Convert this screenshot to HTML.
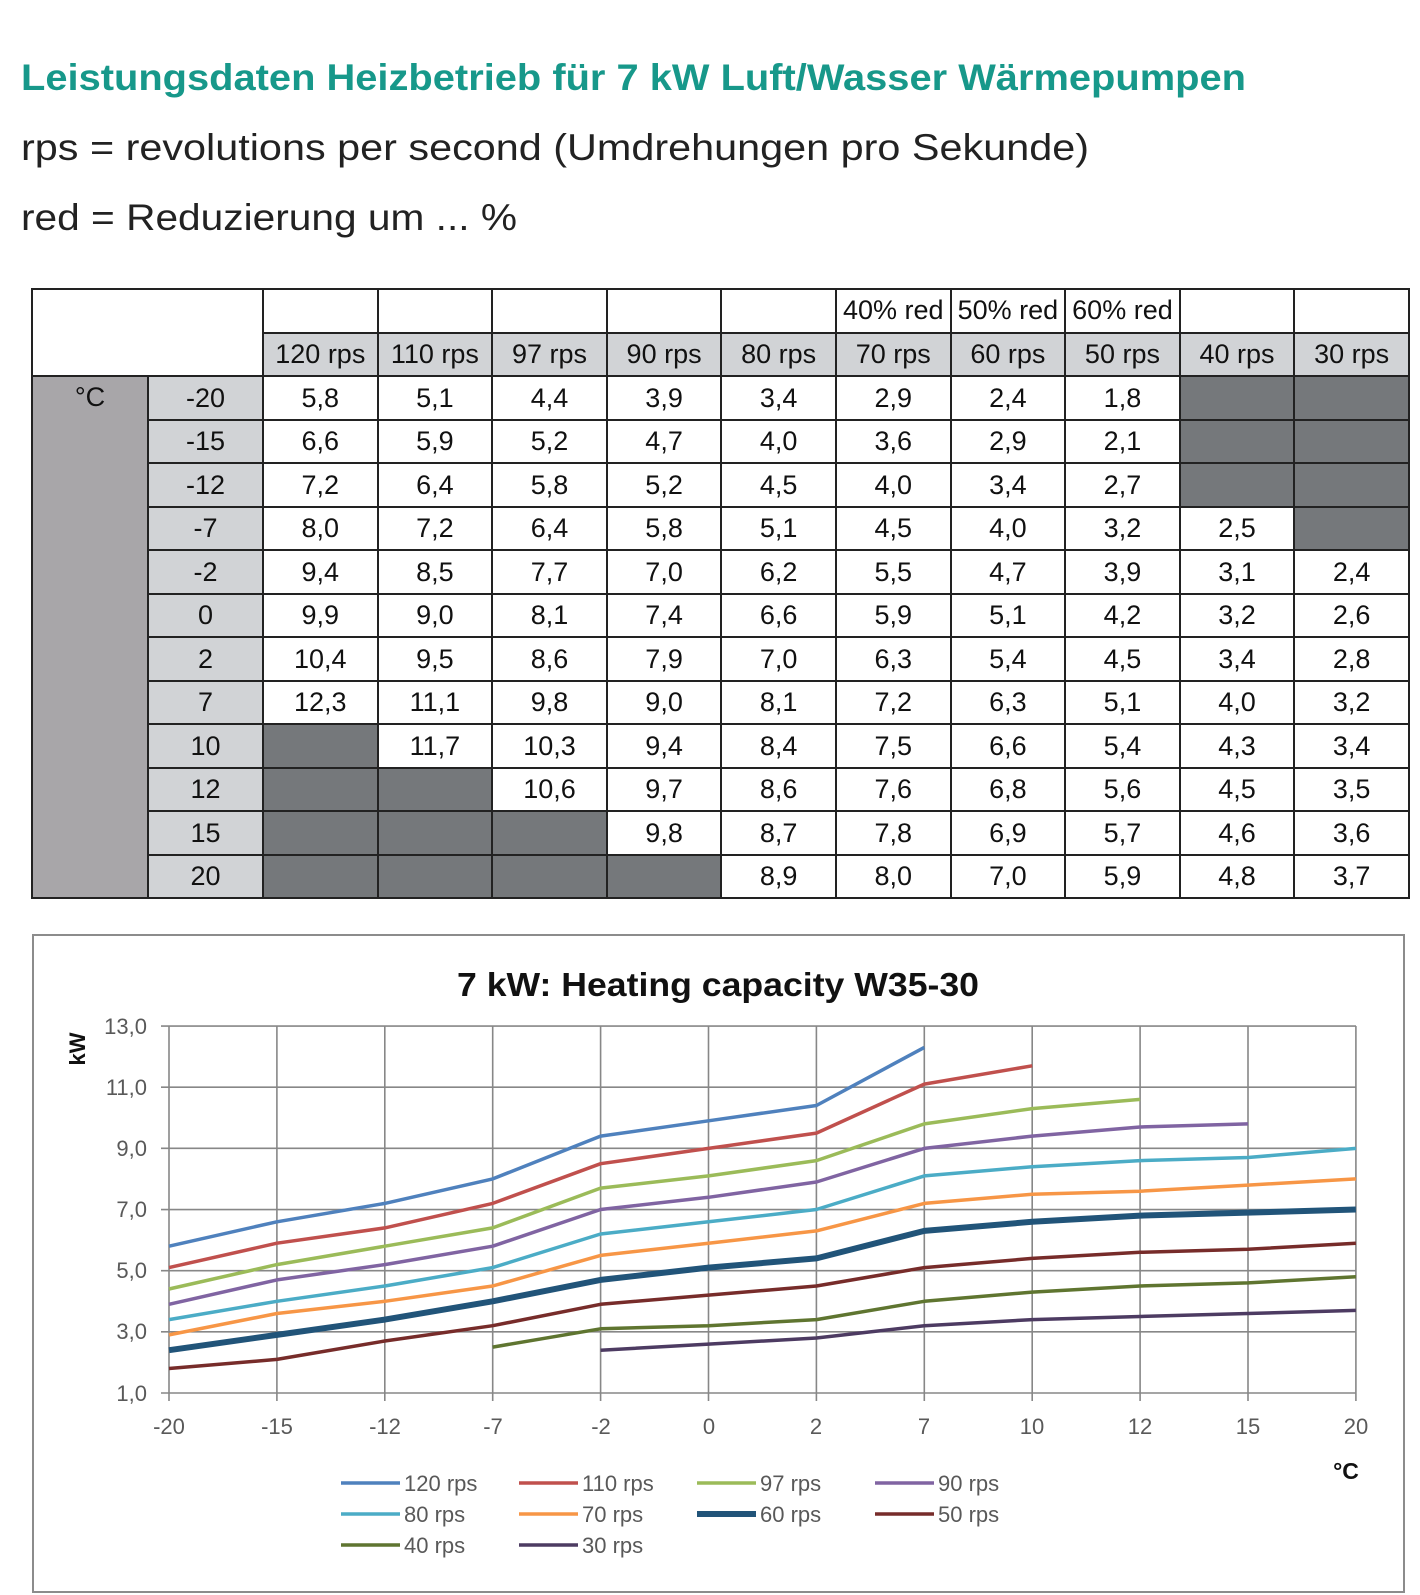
<!DOCTYPE html>
<html><head><meta charset="utf-8">
<style>
html,body{margin:0;padding:0;background:#fff;}
body{width:1420px;height:1595px;position:relative;overflow:hidden;font-family:"Liberation Sans",sans-serif;}
svg{position:absolute;left:0;top:0;}
table{position:absolute;left:31px;top:288px;border-collapse:collapse;table-layout:fixed;width:1377px;font-size:27px;color:#111;}
td{border:2px solid #222;padding:0;text-align:center;height:41.5px;line-height:41px;white-space:nowrap;overflow:hidden;}
tr.h td{height:41.7px;}
.g{background:#d1d3d6;}
.c{background:#a8a6a9;vertical-align:top;}
.d{background:#75787b;}
</style></head><body>
<svg width="1420" height="1595" xmlns="http://www.w3.org/2000/svg" font-family="Liberation Sans, sans-serif">
<text x="21" y="90" font-size="37" font-weight="bold" fill="#17988a" textLength="1225" lengthAdjust="spacingAndGlyphs">Leistungsdaten Heizbetrieb für 7 kW Luft/Wasser Wärmepumpen</text>
<text x="21" y="160" font-size="37" fill="#222" textLength="1068" lengthAdjust="spacingAndGlyphs">rps = revolutions per second (Umdrehungen pro Sekunde)</text>
<text x="21" y="230" font-size="37" fill="#222" textLength="496" lengthAdjust="spacingAndGlyphs">red = Reduzierung um ... %</text>

<rect x="33" y="935" width="1371" height="657" fill="#fff" stroke="#8c8c8c" stroke-width="2"/>
<text x="718" y="996" font-size="33" font-weight="bold" text-anchor="middle" fill="#111" textLength="522" lengthAdjust="spacingAndGlyphs">7 kW: Heating capacity W35-30</text>
<g id="grid" stroke="#878787" stroke-width="1.6" fill="none"></g>
<g font-size="22" fill="#595959" text-anchor="end">
<text x="147" y="1034">13,0</text><text x="147" y="1095">11,0</text><text x="147" y="1156">9,0</text><text x="147" y="1217">7,0</text><text x="147" y="1278">5,0</text><text x="147" y="1339">3,0</text><text x="147" y="1401">1,0</text>
</g>
<text transform="translate(85,1049) rotate(-90)" font-size="22" font-weight="bold" text-anchor="middle" fill="#111">kW</text>
<g font-size="22" fill="#595959" text-anchor="middle">
<text x="169" y="1434">-20</text><text x="277" y="1434">-15</text><text x="385" y="1434">-12</text><text x="493" y="1434">-7</text><text x="601" y="1434">-2</text><text x="709" y="1434">0</text><text x="816" y="1434">2</text><text x="924" y="1434">7</text><text x="1032" y="1434">10</text><text x="1140" y="1434">12</text><text x="1248" y="1434">15</text><text x="1356" y="1434">20</text>
</g>
<text x="1346" y="1479" font-size="23" font-weight="bold" text-anchor="middle" fill="#111">°C</text>
<g id="series" fill="none" stroke-linejoin="round"></g>
<g id="leg"></g>
<g font-size="22" fill="#595959">
<text x="404" y="1491">120 rps</text><text x="582" y="1491">110 rps</text><text x="760" y="1491">97 rps</text><text x="938" y="1491">90 rps</text>
<text x="404" y="1522">80 rps</text><text x="582" y="1522">70 rps</text><text x="760" y="1522">60 rps</text><text x="938" y="1522">50 rps</text>
<text x="404" y="1553">40 rps</text><text x="582" y="1553">30 rps</text>
</g>
</svg>

<table>
<colgroup><col style="width:116px"><col style="width:115px"><col span="10" style="width:114.6px"></colgroup>
<tr class="h"><td colspan="2" rowspan="2"></td><td></td><td></td><td></td><td></td><td></td><td>40% red</td><td>50% red</td><td>60% red</td><td></td><td></td></tr>
<tr class="h"><td class="g">120 rps</td><td class="g">110 rps</td><td class="g">97 rps</td><td class="g">90 rps</td><td class="g">80 rps</td><td class="g">70 rps</td><td class="g">60 rps</td><td class="g">50 rps</td><td class="g">40 rps</td><td class="g">30 rps</td></tr>
<tr><td class="c" rowspan="12">°C</td><td class="g">-20</td><td>5,8</td><td>5,1</td><td>4,4</td><td>3,9</td><td>3,4</td><td>2,9</td><td>2,4</td><td>1,8</td><td class="d"></td><td class="d"></td></tr>
<tr><td class="g">-15</td><td>6,6</td><td>5,9</td><td>5,2</td><td>4,7</td><td>4,0</td><td>3,6</td><td>2,9</td><td>2,1</td><td class="d"></td><td class="d"></td></tr>
<tr><td class="g">-12</td><td>7,2</td><td>6,4</td><td>5,8</td><td>5,2</td><td>4,5</td><td>4,0</td><td>3,4</td><td>2,7</td><td class="d"></td><td class="d"></td></tr>
<tr><td class="g">-7</td><td>8,0</td><td>7,2</td><td>6,4</td><td>5,8</td><td>5,1</td><td>4,5</td><td>4,0</td><td>3,2</td><td>2,5</td><td class="d"></td></tr>
<tr><td class="g">-2</td><td>9,4</td><td>8,5</td><td>7,7</td><td>7,0</td><td>6,2</td><td>5,5</td><td>4,7</td><td>3,9</td><td>3,1</td><td>2,4</td></tr>
<tr><td class="g">0</td><td>9,9</td><td>9,0</td><td>8,1</td><td>7,4</td><td>6,6</td><td>5,9</td><td>5,1</td><td>4,2</td><td>3,2</td><td>2,6</td></tr>
<tr><td class="g">2</td><td>10,4</td><td>9,5</td><td>8,6</td><td>7,9</td><td>7,0</td><td>6,3</td><td>5,4</td><td>4,5</td><td>3,4</td><td>2,8</td></tr>
<tr><td class="g">7</td><td>12,3</td><td>11,1</td><td>9,8</td><td>9,0</td><td>8,1</td><td>7,2</td><td>6,3</td><td>5,1</td><td>4,0</td><td>3,2</td></tr>
<tr><td class="g">10</td><td class="d"></td><td>11,7</td><td>10,3</td><td>9,4</td><td>8,4</td><td>7,5</td><td>6,6</td><td>5,4</td><td>4,3</td><td>3,4</td></tr>
<tr><td class="g">12</td><td class="d"></td><td class="d"></td><td>10,6</td><td>9,7</td><td>8,6</td><td>7,6</td><td>6,8</td><td>5,6</td><td>4,5</td><td>3,5</td></tr>
<tr><td class="g">15</td><td class="d"></td><td class="d"></td><td class="d"></td><td>9,8</td><td>8,7</td><td>7,8</td><td>6,9</td><td>5,7</td><td>4,6</td><td>3,6</td></tr>
<tr><td class="g">20</td><td class="d"></td><td class="d"></td><td class="d"></td><td class="d"></td><td>8,9</td><td>8,0</td><td>7,0</td><td>5,9</td><td>4,8</td><td>3,7</td></tr>
</table>

<script>
(function(){
var NS="http://www.w3.org/2000/svg";
function X(i){return 169+i*107.9;}
function Y(v){return 1393-(v-1)*30.58;}
function el(p,t,a){var e=document.createElementNS(NS,t);for(var k in a)e.setAttribute(k,a[k]);p.appendChild(e);return e;}
var g=document.getElementById("grid");
for(var v=1;v<=13;v+=2){el(g,"line",{x1:161,x2:1356,y1:Y(v),y2:Y(v)});}
for(var i=0;i<12;i++){el(g,"line",{x1:X(i),x2:X(i),y1:1026,y2:1401});}
var S=[
["#4f81bd",3.5,0,[5.8,6.6,7.2,8.0,9.4,9.9,10.4,12.3]],
["#c0504d",3.5,0,[5.1,5.9,6.4,7.2,8.5,9.0,9.5,11.1,11.7]],
["#9bbb59",3.5,0,[4.4,5.2,5.8,6.4,7.7,8.1,8.6,9.8,10.3,10.6]],
["#8064a2",3.5,0,[3.9,4.7,5.2,5.8,7.0,7.4,7.9,9.0,9.4,9.7,9.8]],
["#4bacc6",3.5,0,[3.4,4.0,4.5,5.1,6.2,6.6,7.0,8.1,8.4,8.6,8.7,9.0]],
["#f79646",3.5,0,[2.9,3.6,4.0,4.5,5.5,5.9,6.3,7.2,7.5,7.6,7.8,8.0]],
["#215479",6,0,[2.4,2.9,3.4,4.0,4.7,5.1,5.4,6.3,6.6,6.8,6.9,7.0]],
["#772c2a",3.5,0,[1.8,2.1,2.7,3.2,3.9,4.2,4.5,5.1,5.4,5.6,5.7,5.9]],
["#5f7530",3.5,3,[2.5,3.1,3.2,3.4,4.0,4.3,4.5,4.6,4.8]],
["#4d3b62",3.5,4,[2.4,2.6,2.8,3.2,3.4,3.5,3.6,3.7]]];
var sg=document.getElementById("series"),lg=document.getElementById("leg");
var lx=[341,519,697,875],ly=[1483,1514,1545];
S.forEach(function(s,n){
 var pts=s[3].map(function(v,j){return X(j+s[2]).toFixed(1)+","+Y(v).toFixed(1);}).join(" ");
 el(sg,"polyline",{points:pts,stroke:s[0],"stroke-width":s[1]});
 var x=lx[n%4],y=ly[Math.floor(n/4)];
 el(lg,"line",{x1:x,x2:x+59,y1:y,y2:y,stroke:s[0],"stroke-width":s[1]});
});
})();
</script>
</body></html>
